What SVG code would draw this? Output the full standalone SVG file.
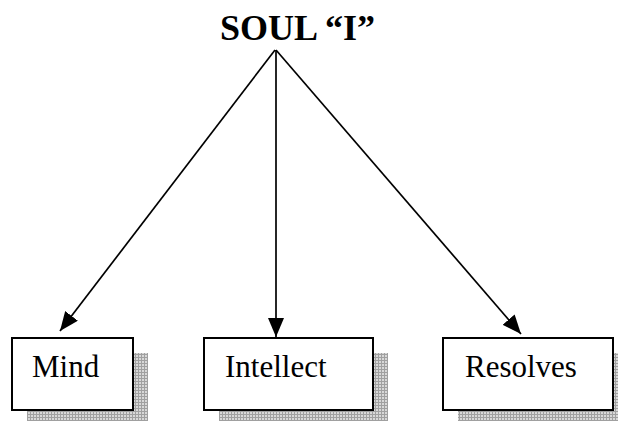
<svg xmlns="http://www.w3.org/2000/svg" width="618" height="421" viewBox="0 0 618 421">
<defs>
<pattern id="grid" width="3" height="3" patternUnits="userSpaceOnUse">
<rect width="3" height="3" fill="#d8d8d8"/>
<path d="M0 0.5H3M0.5 0V3" stroke="#a0a0a0" stroke-width="1" fill="none"/>
</pattern>
<marker id="arr" viewBox="0 0 19 16" refX="19" refY="8" markerWidth="19" markerHeight="16" markerUnits="userSpaceOnUse" orient="auto">
<path d="M0 0L19 8L0 16Z" fill="#000"/>
</marker>
</defs>
<style>
.box{fill:#fff;stroke:#000;stroke-width:2}
.shadow{fill:url(#grid)}
.lbl{font-family:"Liberation Serif","Times New Roman",serif;font-size:31px;fill:#000}
.title{font-family:"Liberation Serif","Times New Roman",serif;font-size:36px;font-weight:bold;fill:#000}
.conn{stroke:#000;stroke-width:1.7;fill:none;marker-end:url(#arr)}
</style>
<rect width="618" height="421" fill="#fff"/>
<g id="soul">
<text class="title" x="220" y="40">SOUL “I”</text>
</g>
<g id="connectors">
<line class="conn" x1="275" y1="50" x2="60" y2="331"/>
<line class="conn" x1="276" y1="50" x2="276" y2="337"/>
<line class="conn" x1="276" y1="50" x2="521" y2="334"/>
</g>
<g id="mind">
<rect class="shadow" x="27" y="353" width="121" height="72"/>
<rect class="box" x="12" y="338" width="121" height="72"/>
<text class="lbl" x="32" y="377">Mind</text>
</g>
<g id="intellect">
<rect class="shadow" x="219" y="353" width="169" height="72"/>
<rect class="box" x="204" y="338" width="169" height="72"/>
<text class="lbl" x="225" y="377">Intellect</text>
</g>
<g id="resolves">
<rect class="shadow" x="458" y="353" width="170" height="72"/>
<rect class="box" x="443" y="338" width="170" height="72"/>
<text class="lbl" x="465" y="377">Resolves</text>
</g>
</svg>
